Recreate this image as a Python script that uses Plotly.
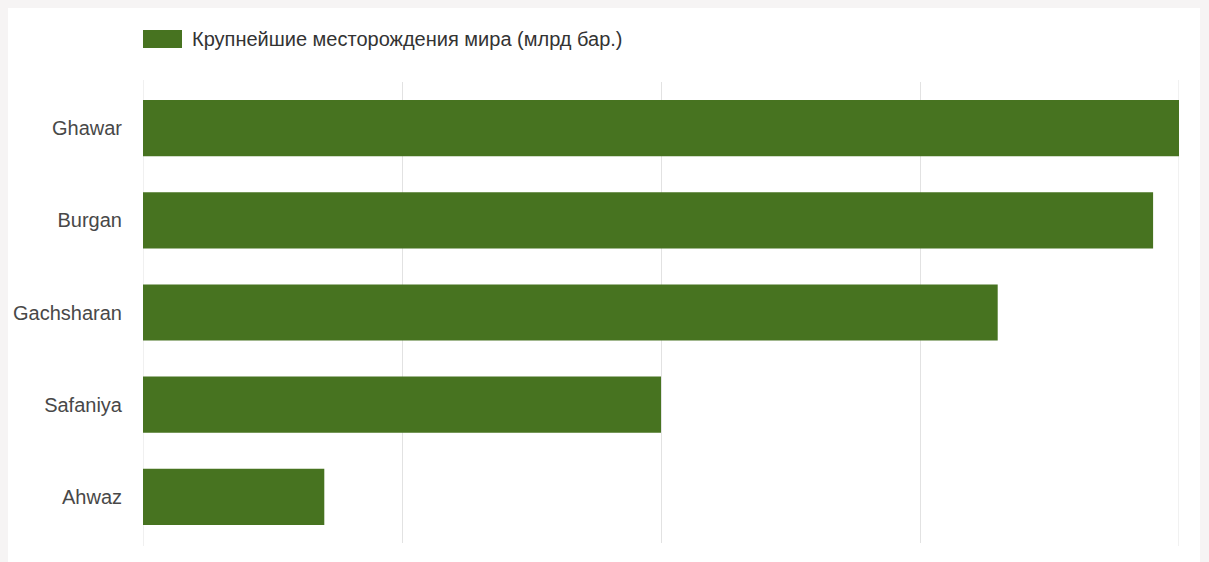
import plotly.graph_objects as go

# Largest oil fields, reserves in billions of barrels
fields = ["Ghawar", "Burgan", "Gachsharan", "Safaniya", "Ahwaz"]
reserves = [80, 78, 66, 40, 14]
series_name = "Крупнейшие месторождения мира (млрд бар.)"
x_range = [0, 80]

BAR_COLOR = "#477320"
GRID = "#e2e2e2"
W, H = 1209, 562
L, R, T, B = 143, 30, 82, 19
pw, ph = W - L - R, H - T - B


def px_x(p):
    return (p - L) / pw


def px_y(p):
    return (H - B - p) / ph


fig = go.Figure(
    go.Bar(
        y=fields,
        x=reserves,
        orientation="h",
        marker=dict(color=BAR_COLOR, line=dict(width=0)),
        name=series_name,
        showlegend=False,
    )
)

shapes = [
    # white card on the light grey page
    dict(type="rect", xref="paper", yref="paper", layer="below",
         x0=px_x(8), x1=px_x(1200), y0=px_y(570), y1=px_y(8),
         fillcolor="white", line=dict(width=0)),
    # legend swatch
    dict(type="rect", xref="paper", yref="paper",
         x0=px_x(143), x1=px_x(182), y0=px_y(48), y1=px_y(30),
         fillcolor=BAR_COLOR, line=dict(width=0)),
]
# grid lines at both ends of the value range
for xv in x_range:
    shapes.append(dict(type="line", xref="x", yref="paper", layer="below",
                       x0=xv, x1=xv, y0=px_y(546), y1=px_y(80),
                       line=dict(color=GRID, width=1)))

fig.update_layout(
    width=W, height=H,
    margin=dict(l=L, r=R, t=T, b=B, pad=0),
    paper_bgcolor="#f6f4f4",
    plot_bgcolor="rgba(0,0,0,0)",
    font=dict(family="Liberation Sans, Arial, sans-serif", size=20, color="#444444"),
    bargap=0.39,
    shapes=shapes,
    annotations=[
        dict(text=series_name, xref="paper", yref="paper",
             x=px_x(190), y=px_y(39), xanchor="left", yanchor="middle",
             showarrow=False, font=dict(size=20, color="#333333")),
    ],
)

fig.update_xaxes(range=x_range, dtick=20, showgrid=True, gridcolor=GRID,
                 gridwidth=1, zeroline=False, showticklabels=False, showline=False)
fig.update_yaxes(autorange="reversed", showgrid=False, zeroline=False, showline=False,
                 ticks="", ticklabelstandoff=20, tickfont=dict(size=20, color="#484848"))

fig.write_html("out.html")
